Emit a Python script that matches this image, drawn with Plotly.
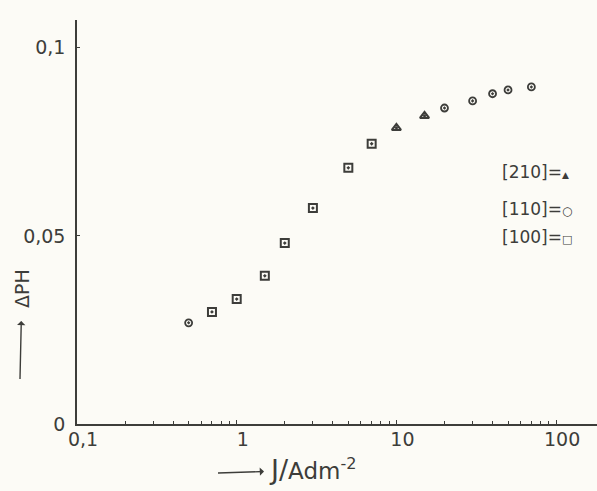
import plotly.graph_objects as go

# [100] series (squares)
sq_x = [0.7, 1.0, 1.5, 2.0, 3.0, 5.0, 7.0]
sq_y = [0.0298, 0.0332, 0.0394, 0.0481, 0.0574, 0.0681, 0.0745]
# [210] series (triangles)
tri_x = [10.0, 15.0]
tri_y = [0.0787, 0.0819]
# [110] series (circles)
circ_x = [0.5, 20.0, 30.0, 40.0, 50.0, 70.0]
circ_y = [0.0269, 0.0840, 0.0859, 0.0878, 0.0888, 0.0896]

x_tickvals = [0.1, 1, 10, 100]
x_ticktext = ["0,1", "1", "10", "100"]
x_minor = [0.2, 0.3, 0.4, 0.5, 0.6, 0.7, 0.8, 0.9,
           2, 3, 4, 5, 6, 7, 8, 9,
           20, 30, 40, 50, 60, 70, 80, 90, 200]
y_tickvals = [0, 0.05, 0.1]
y_ticktext = ["0", "0,05", "0,1"]

INK = "#3d3d3a"
BG = "#fcfbf6"
FONT = "DejaVu Sans"

fig = go.Figure()
mk = dict(color=INK, size=8, line=dict(color=INK, width=2))
fig.add_trace(go.Scatter(x=sq_x, y=sq_y, mode="markers",
                         marker=dict(symbol="square-open-dot", **mk), name="[100]"))
fig.add_trace(go.Scatter(x=tri_x, y=tri_y, mode="markers",
                         marker=dict(symbol="triangle-up-open-dot", **mk), name="[210]"))
fig.add_trace(go.Scatter(x=circ_x, y=circ_y, mode="markers",
                         marker=dict(symbol="circle-open-dot", color=INK, size=7,
                                     line=dict(color=INK, width=1.8)), name="[110]"))

W, H = 597, 491
L, R, T, B = 77, 0, 20, 67
pw, ph = W - L - R, H - T - B


def px(x):
    return (x - L) / pw


def py(y):
    return (H - B - y) / ph


fig.update_layout(
    width=W, height=H,
    margin=dict(l=L, r=R, t=T, b=B, autoexpand=False),
    paper_bgcolor=BG, plot_bgcolor=BG,
    showlegend=False,
    font=dict(family=FONT, color=INK, size=19),
    xaxis=dict(type="log", range=[-1, 2.256], showgrid=False, zeroline=False,
               showline=True, linecolor=INK, linewidth=1.5, automargin=False,
               ticks="inside", ticklen=4, tickwidth=1.2, tickcolor=INK,
               tickvals=x_tickvals, ticktext=x_ticktext,
               ticklabelshift=6, ticklabelstandoff=-3,
               minor=dict(tickvals=x_minor, ticks="inside", ticklen=3,
                          tickwidth=1.2, tickcolor=INK, showgrid=False)),
    yaxis=dict(range=[0, 0.1074], showgrid=False, zeroline=False,
               showline=True, linecolor=INK, linewidth=1.5, automargin=False,
               ticks="inside", ticklen=3, tickwidth=1.2, tickcolor=INK,
               tickvals=y_tickvals, ticktext=y_ticktext, ticklabelstandoff=6),
)

ann = []
# y-axis title with arrow (arrow head next to the text)
ann.append(dict(xref="paper", yref="paper", x=px(20), y=py(379), ax=2, ay=-90,
                text="ΔPH", textangle=-90, showarrow=True, arrowside="start",
                arrowhead=2, arrowsize=1, arrowwidth=1.4, arrowcolor=INK,
                standoff=0, startstandoff=11, font=dict(size=19)))
# x-axis title with arrow
ann.append(dict(xref="paper", yref="paper", x=px(218), y=py(473), ax=94, ay=-3,
                text=("<span style='font-size:27px'>J/</span>"
                      "<span style='font-size:23px'>Adm</span>"
                      "<sup style='font-size:17px'>-2</sup>"),
                showarrow=True, arrowside="start",
                arrowhead=2, arrowsize=1, arrowwidth=1.4, arrowcolor=INK,
                standoff=0, startstandoff=3, font=dict(size=23)))
# legend
leg = [("[210]=", "▲", 9, 172), ("[110]=", "○", 12, 209), ("[100]=", "□", 11, 237)]
for lab, sym, fs, yy in leg:
    ann.append(dict(xref="paper", yref="paper", x=px(500), y=py(yy),
                    text=f"{lab}<span style='font-size:{fs}px'>{sym}</span>",
                    xanchor="left", showarrow=False, font=dict(size=17)))
fig.update_layout(annotations=ann)

fig.write_html("out.html", config={"displayModeBar": False},
               post_script="document.body.style.margin='0';"
                           "document.body.style.background='#fcfbf6';")
